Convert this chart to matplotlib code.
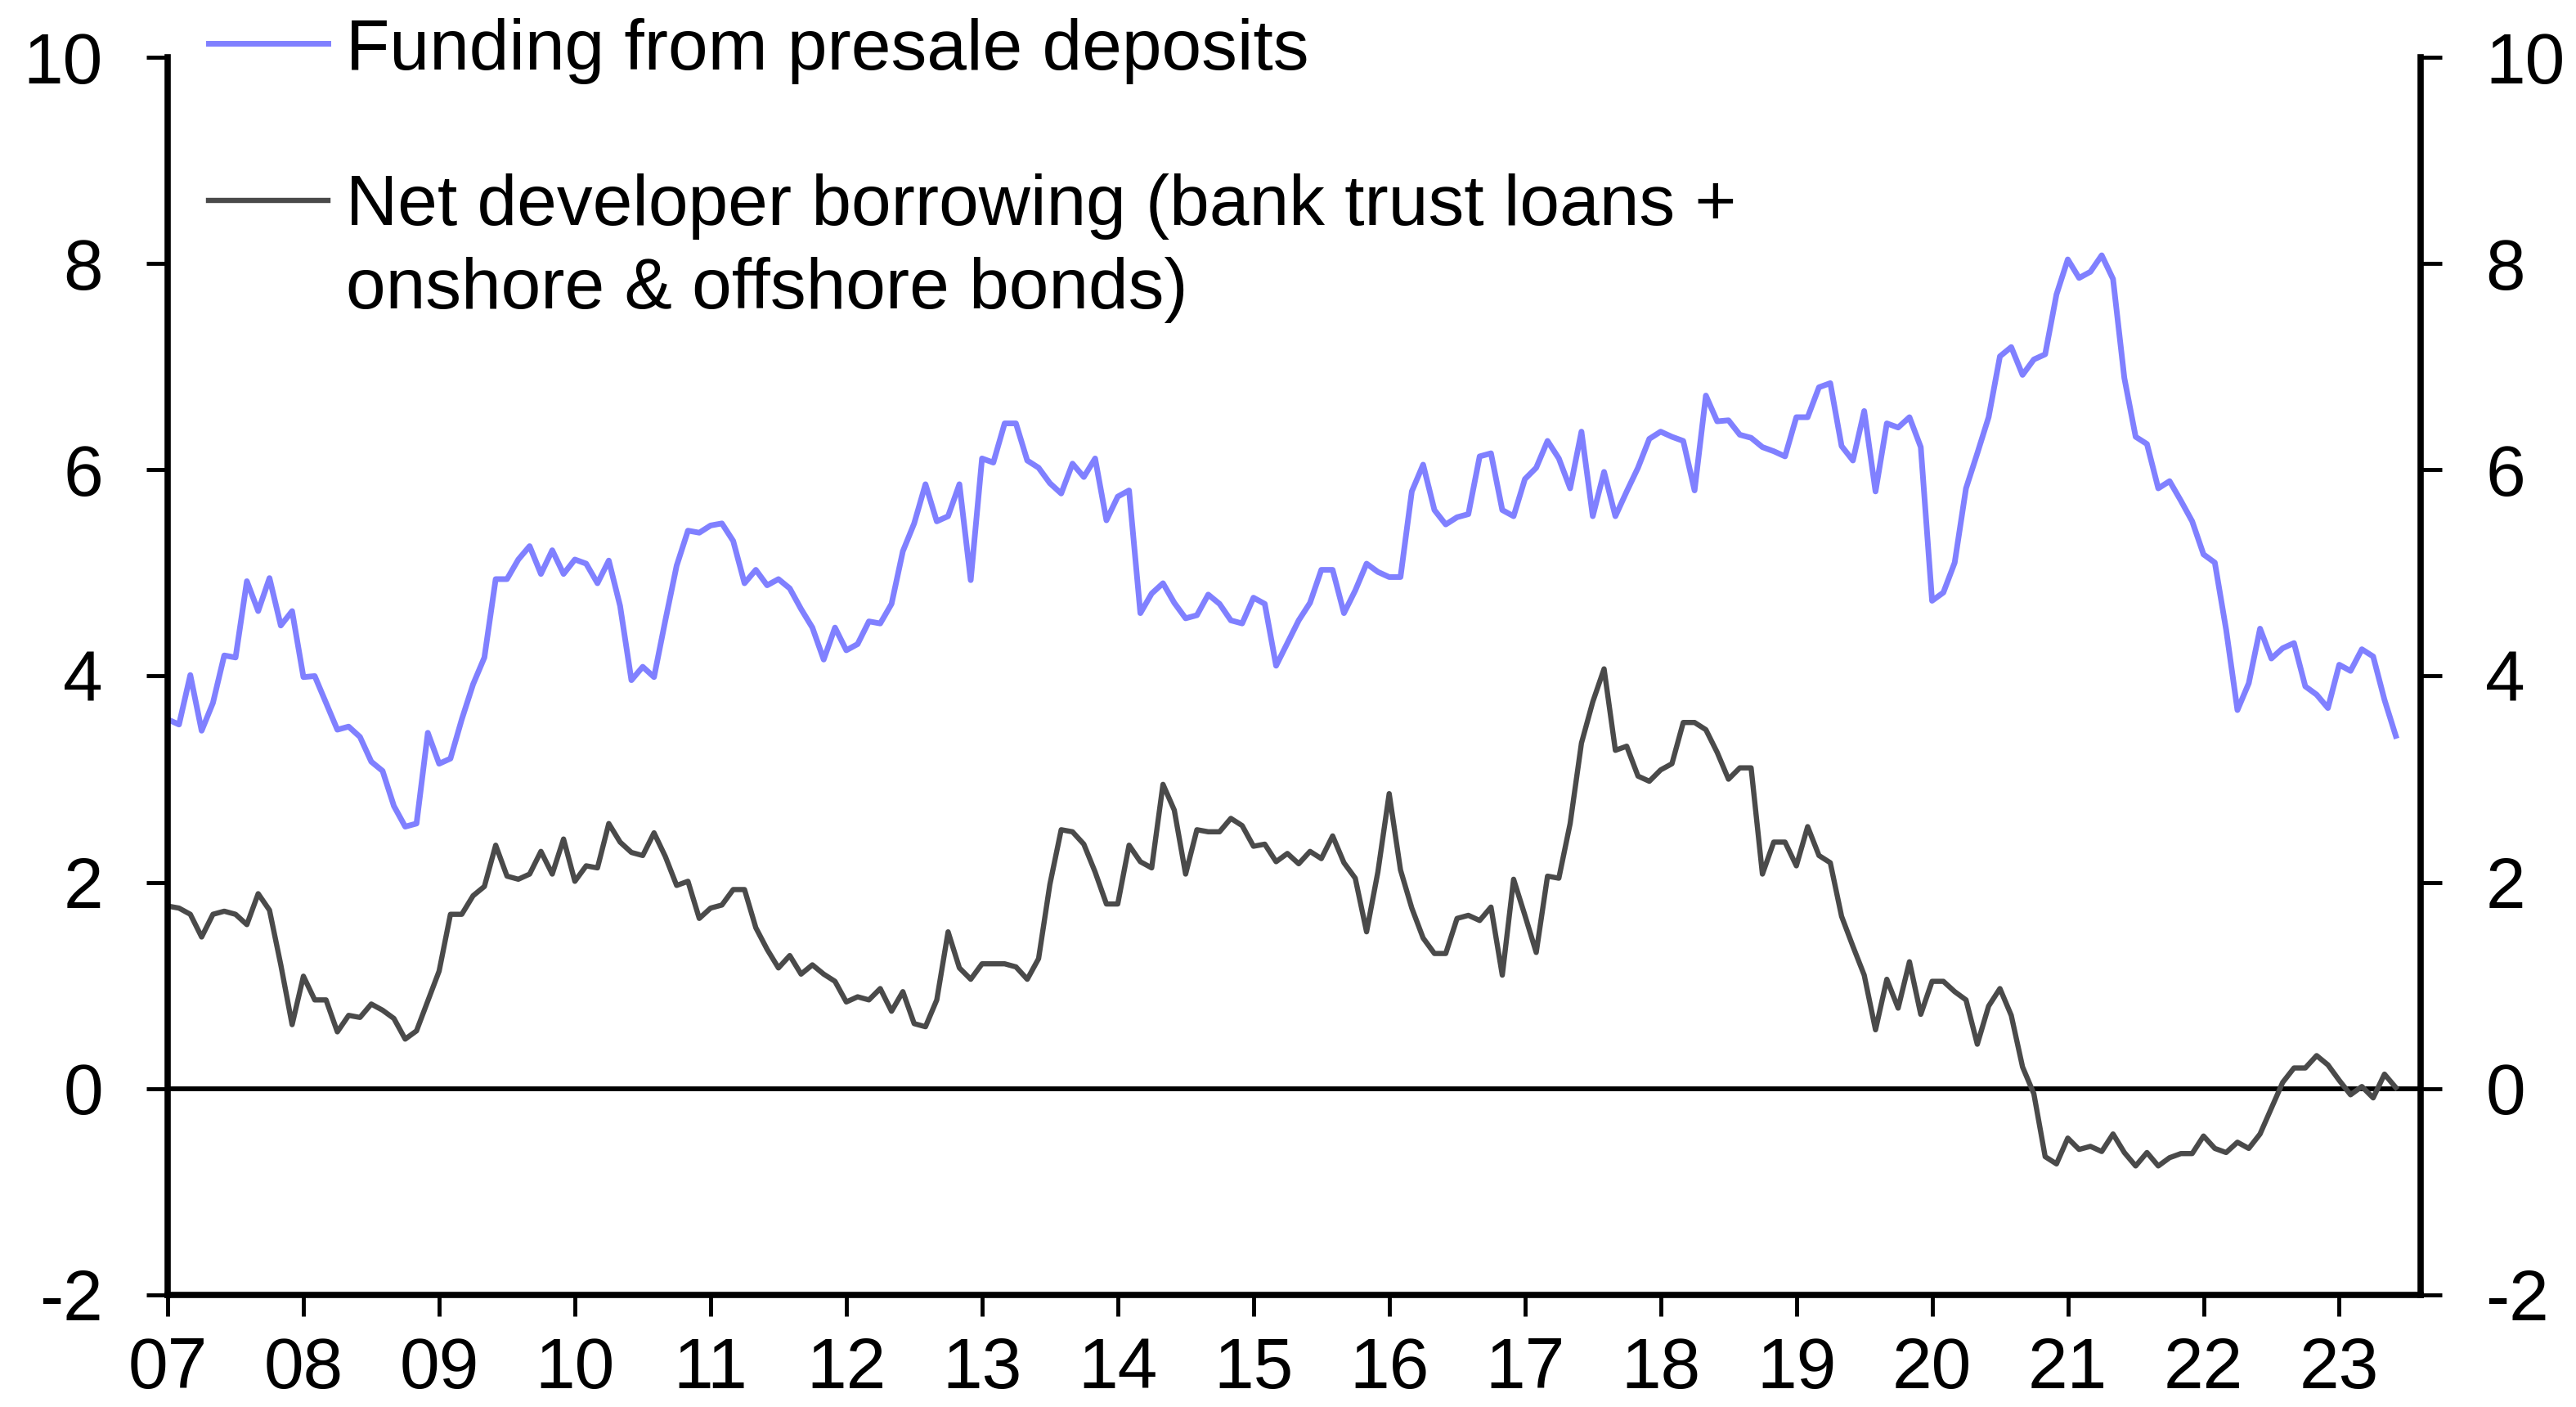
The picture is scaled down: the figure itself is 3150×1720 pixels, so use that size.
import numpy as np
import matplotlib
matplotlib.use("Agg")
import matplotlib.pyplot as plt

plt.rcParams['font.family'] = ['Liberation Sans', 'DejaVu Sans']
plt.rcParams['axes.unicode_minus'] = False

# monthly data, Jan 2007 .. Jun 2023
presale = [
    3.58, 3.53, 4.01, 3.47, 3.74, 4.20, 4.18, 4.92, 4.63, 4.95, 4.49, 4.63,
    3.99, 4.00, 3.74, 3.48, 3.51, 3.41, 3.17, 3.08, 2.74, 2.54, 2.57, 3.45,
    3.15, 3.20, 3.58, 3.92, 4.18, 4.94, 4.94, 5.13, 5.26, 4.99, 5.22, 4.99,
    5.13, 5.09, 4.90, 5.12, 4.68, 3.96, 4.09, 3.99, 4.54, 5.07, 5.41, 5.39,
    5.46, 5.48, 5.31, 4.90, 5.03, 4.88, 4.94, 4.85, 4.65, 4.47, 4.16, 4.47,
    4.25, 4.31, 4.53, 4.51, 4.70, 5.21, 5.48, 5.86, 5.50, 5.55, 5.86, 4.93,
    6.11, 6.07, 6.45, 6.45, 6.09, 6.02, 5.87, 5.77, 6.06, 5.93, 6.11, 5.51,
    5.74, 5.80, 4.61, 4.80, 4.90, 4.71, 4.56, 4.59, 4.79, 4.70, 4.54, 4.51,
    4.76, 4.70, 4.10, 4.32, 4.54, 4.71, 5.03, 5.03, 4.61, 4.83, 5.09, 5.01,
    4.96, 4.96, 5.79, 6.05, 5.61, 5.47, 5.54, 5.57, 6.13, 6.16, 5.61, 5.55,
    5.91, 6.02, 6.28, 6.11, 5.82, 6.37, 5.55, 5.98, 5.55, 5.79, 6.02, 6.30,
    6.37, 6.32, 6.28, 5.80, 6.72, 6.47, 6.48, 6.34, 6.31, 6.22, 6.18, 6.13,
    6.51, 6.51, 6.80, 6.84, 6.23, 6.09, 6.57, 5.79, 6.45, 6.41, 6.51, 6.22,
    4.73, 4.81, 5.10, 5.82, 6.16, 6.51, 7.10, 7.19, 6.92, 7.07, 7.12, 7.70,
    8.04, 7.86, 7.92, 8.08, 7.85, 6.89, 6.32, 6.25, 5.82, 5.89, 5.70, 5.50,
    5.18, 5.10, 4.45, 3.67, 3.93, 4.46, 4.17, 4.27, 4.32, 3.90, 3.82, 3.69,
    4.11, 4.05, 4.26, 4.19, 3.77, 3.42,
]

net_borrowing = [
    1.77, 1.75, 1.69, 1.47, 1.69, 1.72, 1.69, 1.59, 1.89, 1.73, 1.20, 0.62,
    1.09, 0.86, 0.86, 0.55, 0.71, 0.69, 0.82, 0.76, 0.68, 0.48, 0.56, 0.85,
    1.14, 1.69, 1.69, 1.87, 1.96, 2.36, 2.06, 2.03, 2.08, 2.30, 2.08, 2.42,
    2.01, 2.16, 2.14, 2.57, 2.39, 2.29, 2.26, 2.48, 2.25, 1.97, 2.01, 1.65,
    1.75, 1.78, 1.93, 1.93, 1.56, 1.35, 1.17, 1.29, 1.11, 1.20, 1.11, 1.04,
    0.84, 0.89, 0.86, 0.97, 0.75, 0.94, 0.63, 0.60, 0.86, 1.52, 1.17, 1.06,
    1.21, 1.21, 1.21, 1.18, 1.06, 1.26, 1.98, 2.51, 2.49, 2.37, 2.10, 1.79,
    1.79, 2.36, 2.20, 2.14, 2.95, 2.70, 2.08, 2.51, 2.49, 2.49, 2.62, 2.55,
    2.35, 2.37, 2.20, 2.28, 2.18, 2.30, 2.23, 2.45, 2.19, 2.04, 1.52, 2.10,
    2.86, 2.12, 1.75, 1.46, 1.31, 1.31, 1.65, 1.68, 1.63, 1.76, 1.10, 2.03,
    1.68, 1.32, 2.06, 2.04, 2.57, 3.35, 3.75, 4.07, 3.28, 3.32, 3.03, 2.98,
    3.09, 3.15, 3.55, 3.55, 3.48, 3.26, 3.00, 3.11, 3.11, 2.08, 2.39, 2.39,
    2.16, 2.54, 2.26, 2.19, 1.67, 1.38, 1.10, 0.57, 1.06, 0.78, 1.23, 0.72,
    1.04, 1.04, 0.94, 0.86, 0.43, 0.80, 0.97, 0.71, 0.21, -0.05, -0.66, -0.73,
    -0.48, -0.59, -0.56, -0.61, -0.44, -0.62, -0.75, -0.62, -0.75, -0.67, -0.63, -0.63,
    -0.46, -0.58, -0.62, -0.52, -0.58, -0.44, -0.19, 0.06, 0.20, 0.20, 0.32, 0.23,
    0.08, -0.06, 0.02, -0.09, 0.14, 0.01,
]

label_presale = "Funding from presale deposits"
label_net_1 = "Net developer borrowing (bank trust loans +"
label_net_2 = "onshore & offshore bonds)"

year_ticks = list(range(2007, 2024))
year_labels = [f"{y % 100:02d}" for y in year_ticks]
y_ticks = [-2, 0, 2, 4, 6, 8, 10]

blue = "#8080FF"
dark = "#4A4A4A"
lw_blue = 5.0
lw_dark = 4.6

x = 2007 + np.arange(len(presale)) / 12.0

fig = plt.figure(figsize=(31.5, 17.2), dpi=100)
ax = fig.add_axes([0.0651, 0.0797, 0.8746, 0.8796])

ax.plot(x, presale, color=blue, lw=lw_blue, solid_joinstyle='round')
ax.plot(x, net_borrowing, color=dark, lw=lw_dark, solid_joinstyle='round')
ax.axhline(0, color='black', lw=4.2, zorder=1)

ax.set_xlim(2007, 2007 + 199.2 / 12)
ax.set_ylim(-2, 10)
ax.set_xticks(year_ticks)
ax.set_xticklabels(year_labels)
ax.set_yticks(y_ticks)

for s in ['left', 'right', 'bottom']:
    ax.spines[s].set_linewidth(5.5)
ax.spines['top'].set_visible(False)

ax.tick_params(axis='both', direction='out', length=19, width=3.5,
               labelsize=63, colors='black')
ax.tick_params(axis='y', pad=38, left=True, right=True,
               labelleft=True, labelright=True)
ax.tick_params(axis='x', pad=18)

# legend, drawn by hand so the handle lines up with the first text line
ax.plot([0.0181, 0.0711], [1.0112, 1.0112], transform=ax.transAxes,
        color=blue, lw=lw_blue, clip_on=False)
ax.plot([0.0181, 0.0711], [0.8843, 0.8843], transform=ax.transAxes,
        color=dark, lw=lw_dark, clip_on=False)
ax.text(0.0791, 0.990, label_presale, transform=ax.transAxes,
        fontsize=63, va='baseline', ha='left')
ax.text(0.0791, 0.8645, label_net_1, transform=ax.transAxes,
        fontsize=63, va='baseline', ha='left')
ax.text(0.0791, 0.797, label_net_2, transform=ax.transAxes,
        fontsize=63, va='baseline', ha='left')

fig.savefig("out.png", dpi=100)
